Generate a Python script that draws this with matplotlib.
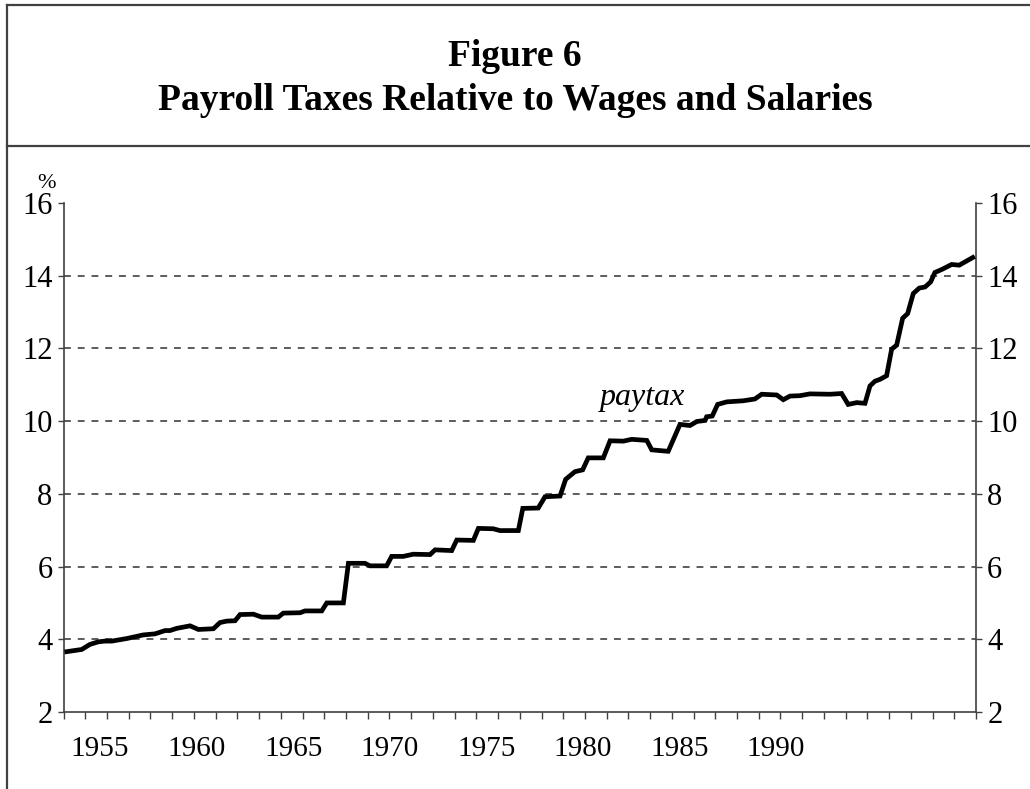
import numpy as np
import matplotlib
matplotlib.use("Agg")
from matplotlib import pyplot as plt
from matplotlib.lines import Line2D

plt.rcParams["font.family"] = ["Liberation Serif", "DejaVu Serif"]

# Data (x in the chart's axis years, value in %)
year = [
    1953.28, 1954.05, 1954.48, 1954.91, 1955.26, 1955.61, 1956.38, 1957.24,
    1957.85, 1958.37, 1958.62, 1958.97, 1959.66, 1960.09, 1960.87, 1961.21,
    1961.56, 1961.99, 1962.25, 1962.94, 1963.37, 1964.23, 1964.49, 1965.36,
    1965.61, 1966.48, 1966.74, 1967.60, 1967.86, 1968.72, 1968.98, 1969.84,
    1970.10, 1970.70, 1971.22, 1972.09, 1972.35, 1973.21, 1973.47, 1974.33,
    1974.59, 1975.36, 1975.71, 1976.66, 1976.89, 1977.69, 1978.04, 1978.82,
    1979.11, 1979.59, 1979.99, 1980.28, 1981.06, 1981.41, 1982.10, 1982.53,
    1983.31, 1983.57, 1984.42, 1985.03, 1985.55, 1985.90, 1986.33, 1986.41,
    1986.70, 1986.98, 1987.45, 1988.31, 1988.91, 1989.26, 1990.04, 1990.38,
    1990.73, 1991.24, 1991.76, 1992.80, 1993.40, 1993.74, 1994.18, 1994.61,
    1994.87, 1995.13, 1995.39, 1995.73, 1995.99, 1996.25, 1996.56, 1996.82,
    1997.11, 1997.42, 1997.72, 1998.01, 1998.23, 1998.58, 1999.10, 1999.49,
    1999.79, 2000.19,
]
paytax = [
    3.66, 3.72, 3.86, 3.93, 3.95, 3.95, 4.02, 4.12,
    4.15, 4.24, 4.24, 4.30, 4.37, 4.27, 4.29, 4.46,
    4.50, 4.51, 4.68, 4.69, 4.61, 4.61, 4.72, 4.73,
    4.78, 4.78, 5.00, 5.00, 6.09, 6.09, 6.02, 6.02,
    6.28, 6.28, 6.34, 6.33, 6.46, 6.44, 6.73, 6.72,
    7.05, 7.04, 6.99, 6.99, 7.60, 7.61, 7.92, 7.94,
    8.40, 8.61, 8.66, 8.99, 8.99, 9.46, 9.45, 9.50,
    9.47, 9.21, 9.17, 9.91, 9.88, 9.99, 10.02, 10.12,
    10.14, 10.46, 10.53, 10.56, 10.61, 10.74, 10.72, 10.59,
    10.69, 10.70, 10.75, 10.74, 10.76, 10.46, 10.51, 10.49,
    10.97, 11.10, 11.15, 11.25, 11.98, 12.09, 12.83, 12.96,
    13.51, 13.66, 13.69, 13.83, 14.09, 14.17, 14.31, 14.29,
    14.38, 14.50,
]

year_labels = [1955, 1960, 1965, 1970, 1975, 1980, 1985, 1990]
y_ticks = [2, 4, 6, 8, 10, 12, 14, 16]

X_LO, X_HI = 1953.11, 2000.355
EDGE = "#404040"

fig = plt.figure(figsize=(10.30, 7.89), dpi=100)
ax = fig.add_axes([0.0617, 0.0976, 0.8859, 0.6451])

ax.plot(year, paytax, color="black", lw=3.4, solid_joinstyle="miter", zorder=3)

ax.set_xlim(X_LO, X_HI)
ax.set_ylim(2, 16)

# y axis: labels on both sides
ax.set_yticks(y_ticks)
ax.yaxis.set_ticks_position("both")
ax.tick_params(axis="y", which="major", direction="out", length=4, width=1,
               color=EDGE, labelsize=22, labelleft=True, labelright=True,
               pad=4)

# x axis: unlabelled minor ticks, labels without tick marks
ax.set_xticks(year_labels)
ax.set_xticklabels([str(y) for y in year_labels])
ax.set_xticks(np.arange(X_LO, X_HI + 0.01, 1.125), minor=True)
ax.tick_params(axis="x", which="major", length=0, labelsize=21, pad=17)
ax.tick_params(axis="x", which="minor", direction="out", length=5, width=1,
               color=EDGE)

for side in ["left", "right", "bottom"]:
    ax.spines[side].set_color(EDGE)
    ax.spines[side].set_linewidth(1.2)
ax.spines["top"].set_visible(False)

# dashed grid at the inner levels only
for lvl in y_ticks[1:-1]:
    ax.axhline(lvl, color="#303030", lw=1.1, ls=(0, (4.5, 4.5)), zorder=1)

ax.text(1983.11, 10.66, "paytax", fontsize=23, style="italic",
        ha="center", va="center")
fig.text(47 / 1030, 1 - 184 / 789, "%", fontsize=16, ha="center", va="center")

# title block and frame
fig.text(0.5, 1 - 57 / 789, "Figure 6", fontsize=27, fontweight="bold",
         ha="center", va="center")
fig.text(0.5, 1 - 100 / 789, "Payroll Taxes Relative to Wages and Salaries",
         fontsize=27, fontweight="bold", ha="center", va="center")

top_y = 1 - 4.5 / 789
div_y = 1 - 146 / 789
left_x = 6.5 / 1030
fig.add_artist(Line2D([left_x, 1.0], [top_y, top_y], color=EDGE, lw=1.6))
fig.add_artist(Line2D([left_x, 1.0], [div_y, div_y], color=EDGE, lw=1.6))
fig.add_artist(Line2D([left_x, left_x], [0.0, top_y], color=EDGE, lw=1.6))

fig.savefig("out.png", dpi=100)
